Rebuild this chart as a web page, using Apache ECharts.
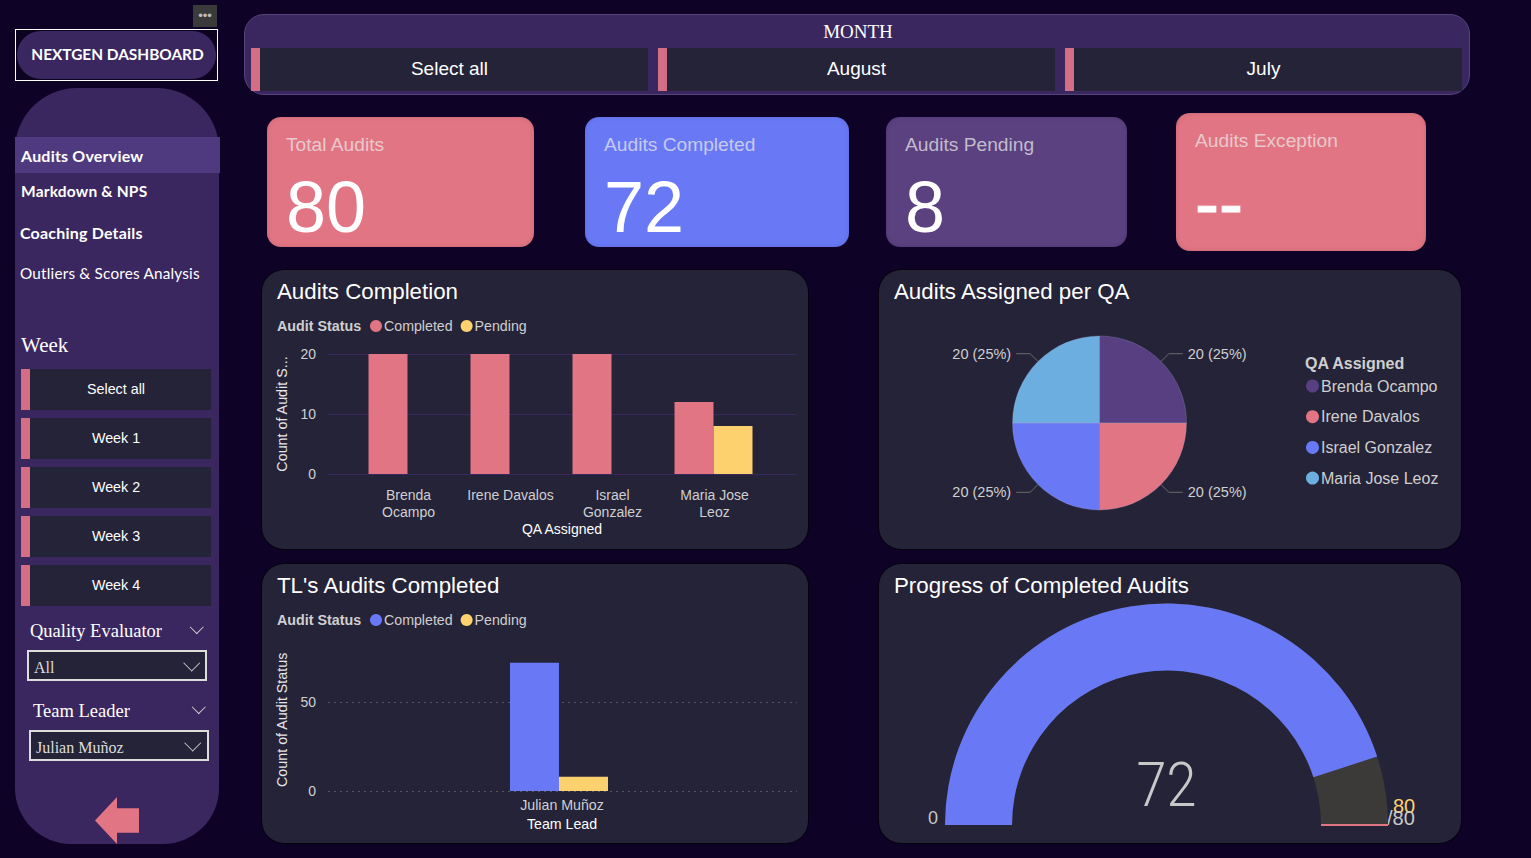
<!DOCTYPE html>
<html>
<head>
<meta charset="utf-8">
<title>NextGen Dashboard</title>
<script src="https://cdn.jsdelivr.net/npm/echarts@6/dist/echarts.min.js"></script>
<style>
  html, body { margin: 0; padding: 0; width: 1531px; height: 858px; overflow: hidden; background: #0e0326; font-family: "Liberation Sans", Arial, sans-serif; color: #fff; }
  .abs { position: absolute; box-sizing: border-box; white-space: nowrap; }
  .panel { position: absolute; background: #252338; border-radius: 22px; box-shadow: 0 0 0 1px #06020f; overflow: hidden; }
  .serif { font-family: "Liberation Serif", serif; }
  .casual { font-family: "Lato", sans-serif; font-weight: 700; letter-spacing: .2px; }
  .slicer { position: absolute; box-sizing: border-box; background: #252338; border-left: 9px solid #d46e84; padding: 0 9px 2px 0; display: flex; align-items: center; justify-content: center; }
  .card { position: absolute; border-radius: 14px; box-shadow: inset 0 0 5px rgba(0,0,0,.12); }
  .card .lbl { position: absolute; left: 19px; top: 17px; font-size: 19.2px; color: rgba(235,235,235,.72); white-space: nowrap; }
  .card .val { position: absolute; left: 19px; top: 49px; font-size: 72px; line-height: 82px; color: #fff; white-space: nowrap; }
  .chev { position: absolute; width: 9.5px; height: 9.5px; border-right: 1.3px solid #ccc; border-bottom: 1.3px solid #ccc; transform: rotate(45deg); box-sizing: border-box; }
  .chev.big { width: 11.5px; height: 11.5px; }
  .drop { position: absolute; box-sizing: border-box; background: #252338; border: 2px solid #ddd; font-family: "Liberation Serif", serif; font-size: 16px; color: #ddd; line-height: 31px; padding-left: 5px; }
</style>
</head>
<body>
<div class="abs" style="left:193px;top:5px;width:24px;height:22px;background:#3a3a3a;color:#bbb;font-size:13px;line-height:22px;text-align:center;letter-spacing:0">&#8226;&#8226;&#8226;</div>
<div class="abs" style="left:15px;top:29px;width:203px;height:52px;border:1px solid #fff;background:#0b0320;padding:1px">
  <div class="casual" style="width:100%;height:48px;border-radius:24px;background:#3b2760;text-align:center;line-height:46px;font-size:15.4px;letter-spacing:0;padding-left:2px;box-sizing:border-box">NEXTGEN DASHBOARD</div>
</div>

<div class="abs" style="left:15px;top:88px;width:204px;height:756px;background:#3b2760;border-radius:62px 62px 56px 56px"></div>
<div class="abs" style="left:15px;top:137px;width:205px;height:36px;background:#4f3a80"></div>
<div class="abs casual" style="left:21px;top:146px;font-size:16px">Audits Overview</div>
<div class="abs casual" style="left:21px;top:182px;font-size:15.5px">Markdown &amp; NPS</div>
<div class="abs casual" style="left:20px;top:223px;font-size:16px">Coaching Details</div>
<div class="abs casual" style="left:20px;top:264px;font-size:15.3px;font-weight:400">Outliers &amp; Scores Analysis</div>
<div class="abs serif" style="left:21px;top:333px;font-size:21px">Week</div>
<div id="weeks"></div>

<div class="abs serif" style="left:30px;top:621px;font-size:18.5px">Quality Evaluator</div>
<div class="chev" style="left:191.5px;top:621.5px"></div>
<div class="drop" style="left:27px;top:650px;width:180px;height:31px">All</div>
<div class="chev big" style="left:185.5px;top:656.5px"></div>
<div class="abs serif" style="left:33px;top:701px;font-size:18.5px">Team Leader</div>
<div class="chev" style="left:193.5px;top:702px"></div>
<div class="drop" style="left:29px;top:730px;width:180px;height:31px">Julian Muñoz</div>
<div class="chev big" style="left:187px;top:737px"></div>
<div class="abs" style="left:95px;top:797px;width:44px;height:47px;background:#e27583;clip-path:polygon(0 50%,50% 0,50% 24%,100% 24%,100% 76%,50% 76%,50% 100%)"></div>

<div class="abs" style="left:244px;top:14px;width:1226px;height:81px;background:#3b2760;border:1px solid #54447a;border-radius:20px"></div>
<div class="abs serif" style="left:244px;top:21px;width:1228px;text-align:center;font-size:19px">MONTH</div>
<div id="months"></div>
<div id="cards"></div>

<div class="panel" id="completionChart" style="left:262px;top:270px;width:546px;height:279px"></div>
<div class="panel" id="assignedChart" style="left:879px;top:270px;width:582px;height:279px"></div>
<div class="panel" id="leadChart" style="left:262px;top:564px;width:546px;height:279px"></div>
<div class="panel" id="progressChart" style="left:879px;top:564px;width:582px;height:279px"></div>

<script>
const monthOptions = ['Select all', 'August', 'July'];
const weekOptions = ['Select all', 'Week 1', 'Week 2', 'Week 3', 'Week 4'];
const kpiNames = ['Total Audits', 'Audits Completed', 'Audits Pending', 'Audits Exception'];
const kpiValues = ['80', '72', '8', '--'];

const qaNames = ['Brenda\nOcampo', 'Irene Davalos', 'Israel\nGonzalez', 'Maria Jose\nLeoz'];
const qaCompleted = [20, 20, 20, 12];
const qaPending = [null, null, null, 8];

const pieNames = ['Brenda Ocampo', 'Irene Davalos', 'Israel Gonzalez', 'Maria Jose Leoz'];
const pieValues = [20, 20, 20, 20];

const leadNames = ['Julian Muñoz'];
const leadCompleted = [72];
const leadPending = [8];

const gaugeValue = 72;
const gaugeTarget = 80;
const gaugeMin = 0;

const pink = '#e27583', blue = '#6979f5', yellow = '#fdd26e', purple = '#573f82', sky = '#6daee0';
const labelGrey = '#cfcfcf';
const fontFamily = '"Liberation Sans", Arial, sans-serif';

// static chrome
function addSlicers(hostId, names, left, top, width, height, step, vertical, fontSize) {
  const host = document.getElementById(hostId);
  names.forEach((name, i) => {
    const el = document.createElement('div');
    el.className = 'slicer';
    el.textContent = name;
    el.style.cssText = `left:${left + (vertical ? 0 : i * step)}px;top:${top + (vertical ? i * step : 0)}px;width:${width}px;height:${height}px;font-size:${fontSize}px`;
    host.appendChild(el);
  });
}
addSlicers('months', monthOptions, 251, 48, 397, 43, 407, false, 19);
addSlicers('weeks', weekOptions, 21, 369, 190, 41, 49, true, 14.3);

const cardBoxes = [[267, 117, 267, 130, pink], [585, 117, 264, 130, blue], [886, 117, 241, 130, '#5b4180'], [1176, 113, 250, 138, pink]];
cardBoxes.forEach((box, i) => {
  const el = document.createElement('div');
  el.className = 'card';
  el.style.cssText = `left:${box[0]}px;top:${box[1]}px;width:${box[2]}px;height:${box[3]}px;background:${box[4]}`;
  const weight = kpiValues[i] === '--' ? '-webkit-text-stroke:1px #fff' : '';
  el.innerHTML = `<div class="lbl">${kpiNames[i]}</div><div class="val" style="${weight}">${kpiValues[i]}</div>`;
  document.getElementById('cards').appendChild(el);
});

function titleStyle(text) {
  return { text, left: 10, top: 5, textStyle: { color: '#fff', fontSize: 22.3, fontWeight: 'normal', fontFamily } };
}
function legendTitle(text, left, top, size) {
  return { text, left, top, textStyle: { color: labelGrey, fontSize: size, fontWeight: 'bold', fontFamily } };
}
function statusLegend() {
  return {
    left: 103, top: 44, icon: 'circle', itemWidth: 12, itemHeight: 12, itemGap: 8,
    selectedMode: false,
    textStyle: { color: labelGrey, fontSize: 14.2, fontFamily, padding: [0, 0, 0, -3] }
  };
}
function barSeries(name, color, data, barWidth) {
  return { name, type: 'bar', xAxisIndex: 1, yAxisIndex: 1, data, barGap: 0, barWidth, silent: true, itemStyle: { color } };
}

// Audits Completion: wide grid carries the gridlines, narrow grid carries the bars
const completionChart = echarts.init(document.getElementById('completionChart'), null, { renderer: 'svg' });
completionChart.setOption({
  animation: false,
  title: [titleStyle('Audits Completion'), legendTitle('Audit Status', 10, 44, 14.3)],
  legend: statusLegend(),
  grid: [
    { left: 66, top: 84, width: 468, height: 120 },
    { left: 94.5, top: 84, width: 408, height: 120 }
  ],
  xAxis: [
    { gridIndex: 0, type: 'category', data: [], show: false },
    {
      gridIndex: 1, type: 'category', data: qaNames,
      axisLine: { show: false }, axisTick: { show: false },
      axisLabel: { color: labelGrey, fontSize: 14, lineHeight: 17, margin: 12, interval: 0, padding: [0, 0, 0, 2], fontFamily },
      name: 'QA Assigned', nameLocation: 'middle', nameGap: 48,
      nameTextStyle: { color: '#fff', fontSize: 14, padding: [0, 0, 0, 3], fontFamily }
    }
  ],
  yAxis: [
    {
      gridIndex: 0, type: 'value', min: 0, max: 20, interval: 10,
      axisLine: { show: false }, axisTick: { show: false },
      splitLine: { lineStyle: { color: '#3b2760', width: 1 } },
      axisLabel: { color: labelGrey, fontSize: 14, margin: 12, fontFamily },
      name: 'Count of Audit S...', nameLocation: 'middle', nameGap: 39,
      nameTextStyle: { color: '#e6e6e6', fontSize: 14.3, fontFamily }
    },
    { gridIndex: 1, type: 'value', min: 0, max: 20, show: false }
  ],
  series: [
    barSeries('Completed', pink, qaCompleted, 39),
    barSeries('Pending', yellow, qaPending, 39)
  ]
});

// Audits Assigned per QA
const pieColors = [purple, pink, blue, sky];
const assignedChart = echarts.init(document.getElementById('assignedChart'), null, { renderer: 'svg' });
assignedChart.setOption({
  animation: false,
  title: [titleStyle('Audits Assigned per QA'), legendTitle('QA Assigned', 421, 80, 16)],
  legend: {
    orient: 'vertical', left: 422, top: 103, icon: 'circle', itemWidth: 13, itemHeight: 13, itemGap: 14.7,
    selectedMode: false, itemStyle: { borderWidth: 0 },
    textStyle: { color: labelGrey, fontSize: 16, fontFamily, padding: [0, 0, 0, -3] }
  },
  series: [{
    type: 'pie', center: [220.5, 153], radius: 87, startAngle: 90, silent: true,
    data: pieNames.map((name, i) => ({ name, value: pieValues[i], itemStyle: { color: pieColors[i] } })),
    itemStyle: { borderColor: 'rgba(170,170,210,.25)', borderWidth: 1 },
    label: { formatter: '{c} ({d}%)', color: labelGrey, fontSize: 14.5, fontFamily },
    labelLine: { length: 11, length2: 14, smooth: false, lineStyle: { color: '#6b6b6b', width: 1 } }
  }]
});

// TL's Audits Completed
const leadChart = echarts.init(document.getElementById('leadChart'), null, { renderer: 'svg' });
leadChart.setOption({
  animation: false,
  title: [titleStyle("TL's Audits Completed"), legendTitle('Audit Status', 10, 44, 14.3)],
  legend: statusLegend(),
  grid: [
    { left: 66, top: 84.6, width: 469, height: 142.4 },
    { left: 66, top: 84.6, width: 462, height: 142.4 }
  ],
  xAxis: [
    { gridIndex: 0, type: 'category', data: [], show: false },
    {
      gridIndex: 1, type: 'category', data: leadNames,
      axisLine: { show: false }, axisTick: { show: false },
      axisLabel: { color: labelGrey, fontSize: 14.2, margin: 7, padding: [0, 0, 0, 6], fontFamily },
      name: 'Team Lead', nameLocation: 'middle', nameGap: 25,
      nameTextStyle: { color: '#fff', fontSize: 14.2, padding: [0, 0, 0, 6], fontFamily }
    }
  ],
  yAxis: [
    {
      gridIndex: 0, type: 'value', min: 0, max: 80, interval: 50,
      axisLine: { show: false }, axisTick: { show: false },
      splitLine: { showMaxLine: false, lineStyle: { color: '#55555f', type: [2, 4], width: 1 } },
      axisLabel: { color: labelGrey, fontSize: 14, margin: 12, showMaxLabel: false, fontFamily },
      name: 'Count of Audit Status', nameLocation: 'middle', nameGap: 39,
      nameTextStyle: { color: '#e6e6e6', fontSize: 14.3, fontFamily }
    },
    { gridIndex: 1, type: 'value', min: 0, max: 80, show: false }
  ],
  series: [
    barSeries('Completed', blue, leadCompleted, 49),
    barSeries('Pending', yellow, leadPending, 49)
  ]
});

// Progress of Completed Audits
const progressChart = echarts.init(document.getElementById('progressChart'), null, { renderer: 'svg' });
progressChart.setOption({
  animation: false,
  title: [titleStyle('Progress of Completed Audits')],
  series: [
    {
      type: 'gauge', center: [287.5, 261], radius: 221.5, startAngle: 180, endAngle: 0,
      min: gaugeMin, max: gaugeTarget, silent: true,
      axisLine: { roundCap: false, lineStyle: { width: 67, color: [[1, '#3b3a38']] } },
      progress: { show: true, width: 67, itemStyle: { color: blue } },
      pointer: { show: false }, axisTick: { show: false }, splitLine: { show: false }, axisLabel: { show: false },
      anchor: { show: false }, title: { show: false }, detail: { show: false },
      data: [{ value: gaugeValue }]
    },
    {
      // target marker drawn as a pointer lying on the end of the band
      type: 'gauge', center: [287.5, 261], radius: 221.5, startAngle: 180, endAngle: 0,
      min: gaugeMin, max: gaugeTarget, silent: true,
      axisLine: { show: false }, progress: { show: false },
      axisTick: { show: false }, splitLine: { show: false }, axisLabel: { show: false },
      anchor: { show: false }, title: { show: false }, detail: { show: false },
      pointer: { show: true, icon: 'rect', width: 2, length: 67, offsetCenter: [0, -154.5], itemStyle: { color: pink } },
      data: [{ value: gaugeTarget }]
    }
  ],
  graphic: [
    // the big number is narrower than any installed face, so squeeze it a little
    {
      type: 'text', x: 287.5, y: 221, scaleX: 0.87,
      style: { text: String(gaugeValue), fill: '#c8c8c8', align: 'center', verticalAlign: 'middle', font: '300 62px Roboto, sans-serif' }
    },
    { type: 'text', left: 49, top: 245, style: { text: String(gaugeMin), fill: '#c8c8c8', font: '18px ' + fontFamily } },
    { type: 'text', left: 514, top: 232, style: { text: String(gaugeTarget), fill: yellow, font: '20px ' + fontFamily } },
    { type: 'text', left: 508, top: 244, style: { text: '/' + gaugeTarget, fill: '#c8c8c8', font: '20px ' + fontFamily } }
  ]
});
</script>
</body>
</html>
